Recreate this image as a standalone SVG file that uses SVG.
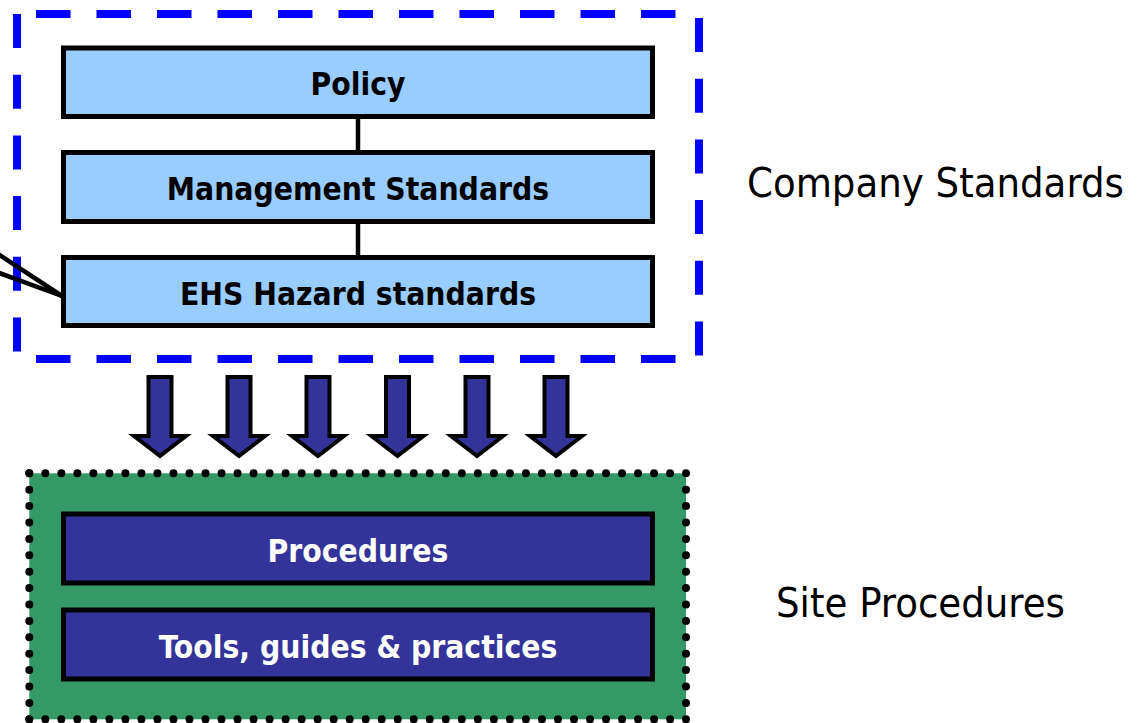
<svg xmlns="http://www.w3.org/2000/svg" width="1137" height="723" viewBox="0 0 1137 723">
<style>
.std{fill:#99CCFF;stroke:#000;stroke-width:5}
.site{fill:#333399;stroke:#000;stroke-width:5}
.bt{font-family:"DejaVu Sans Condensed","DejaVu Sans",sans-serif;font-stretch:condensed;font-weight:bold;font-size:31.5px;text-anchor:middle}
.lbl{font-family:"DejaVu Sans Condensed","DejaVu Sans",sans-serif;font-stretch:condensed;font-size:41.3px;fill:#000}
.dash{stroke:#0000FF;stroke-width:8;fill:none}
.dot{stroke:#000;stroke-width:8;stroke-linecap:round;fill:none}
.conn{stroke:#000;stroke-width:4.5;fill:none}
.arrow{fill:#333399;stroke:#000;stroke-width:4;stroke-linejoin:miter}
</style>
<defs>
<path id="dn" d="M -11.5 377 L 11.5 377 L 11.5 436 L 26 436 L 0 456 L -26 436 L -11.5 436 Z"/>
</defs>
<g id="company-group">
<line class="dash" x1="36" y1="14" x2="677" y2="14" stroke-dasharray="34.5 26"/>
<line class="dash" x1="36" y1="359" x2="677" y2="359" stroke-dasharray="34.5 26"/>
<line class="dash" x1="17" y1="14" x2="17" y2="352" stroke-dasharray="34 26.7"/>
<line class="dash" x1="699" y1="18" x2="699" y2="356" stroke-dasharray="34 26.7"/>
</g>
<g id="site-group">
<rect x="29.3" y="473.3" width="656.7" height="246" fill="#339966"/>
<line class="dot" x1="29.3" y1="473.3" x2="686" y2="473.3" stroke-dasharray="0 16.02"/>
<line class="dot" x1="29.3" y1="473.3" x2="29.3" y2="719.3" stroke-dasharray="0 16.4"/>
<line class="dot" x1="686" y1="473.3" x2="686" y2="719.3" stroke-dasharray="0 16.4"/>
<line class="dot" x1="29.3" y1="719.3" x2="686" y2="719.3" stroke-dasharray="0 16.02"/>
</g>
<g id="connectors">
<line class="conn" x1="358" y1="116" x2="358" y2="153"/>
<line class="conn" x1="358" y1="221" x2="358" y2="258"/>
<line class="conn" x1="-2" y1="254" x2="62" y2="296"/>
<line class="conn" x1="-2" y1="272.5" x2="62" y2="296"/>
</g>
<g id="policy">
<rect class="std" x="63.5" y="48" width="589" height="68.5"/>
<text class="bt" x="358" y="95">Policy</text>
</g>
<g id="management-standards">
<rect class="std" x="63.5" y="152.5" width="589" height="69"/>
<text class="bt" x="358" y="200">Management Standards</text>
</g>
<g id="ehs-hazard-standards">
<rect class="std" x="63.5" y="257.5" width="589" height="68"/>
<text class="bt" x="358" y="304.5">EHS Hazard standards</text>
</g>
<g id="arrows">
<use href="#dn" class="arrow" transform="translate(160,0)"/>
<use href="#dn" class="arrow" transform="translate(239,0)"/>
<use href="#dn" class="arrow" transform="translate(318,0)"/>
<use href="#dn" class="arrow" transform="translate(397.5,0)"/>
<use href="#dn" class="arrow" transform="translate(477,0)"/>
<use href="#dn" class="arrow" transform="translate(556,0)"/>
</g>
<g id="procedures">
<rect class="site" x="63.5" y="514" width="589" height="69"/>
<text class="bt" x="358" y="562" fill="#fff">Procedures</text>
</g>
<g id="tools">
<rect class="site" x="63.5" y="610" width="589" height="69"/>
<text class="bt" x="358" y="657.5" fill="#fff">Tools, guides &amp; practices</text>
</g>
<g id="label-company">
<text class="lbl" x="747" y="197">Company Standards</text>
</g>
<g id="label-site">
<text class="lbl" x="776" y="617">Site Procedures</text>
</g>
</svg>
